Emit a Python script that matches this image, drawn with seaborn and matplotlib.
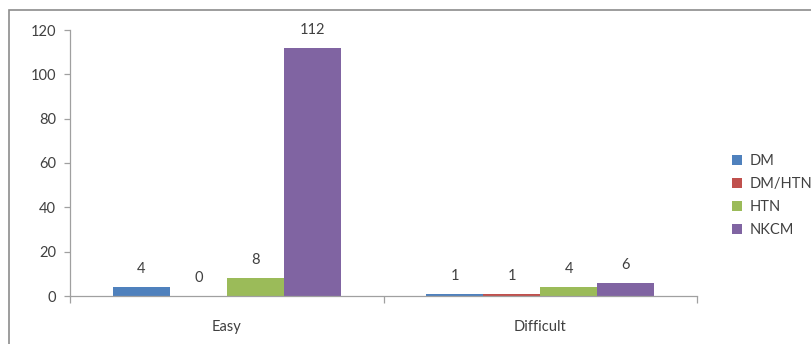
import matplotlib
matplotlib.use("Agg")
import matplotlib.pyplot as plt
import matplotlib.patches as mpatches
import seaborn as sns
import pandas as pd

categories = ["Easy", "Difficult"]
series = ["DM", "DM/HTN", "HTN", "NKCM"]
dm = [4, 1]
dm_htn = [0, 1]
htn = [8, 4]
nkcm = [112, 6]
colors = ["#4F81BD", "#C0504D", "#9BBB59", "#8064A2"]
yticks = [0, 20, 40, 60, 80, 100, 120]

rows = []
for s, vals in zip(series, [dm, dm_htn, htn, nkcm]):
    for c, v in zip(categories, vals):
        rows.append({"Category": c, "Series": s, "Value": v})
df = pd.DataFrame(rows)

sns.set_theme(style="white")
plt.rcParams["font.family"] = ["Lato", "DejaVu Sans"]

fig = plt.figure(figsize=(8.12, 3.44), dpi=100)
ax = fig.add_axes([70/812, 1-296/344, (697-70)/812, (296-30)/344])

sns.barplot(data=df, x="Category", y="Value", hue="Series", order=categories,
            hue_order=series, palette=colors, width=0.727, saturation=1,
            linewidth=0, ax=ax, legend=True)

for cont in ax.containers:
    ax.bar_label(cont, padding=8, fontsize=10.5, color="#404040")

ax.set_xlim(-0.5, 1.5)
ax.set_ylim(0, 120)
ax.set_yticks(yticks)
ax.set_xlabel("")
ax.set_ylabel("")
for sp in ["top", "right"]:
    ax.spines[sp].set_visible(False)
for sp in ["left", "bottom"]:
    ax.spines[sp].set_color("#A0A0A0")
    ax.spines[sp].set_linewidth(0.9)

ax.tick_params(axis="y", which="major", length=4, width=0.9, color="#A0A0A0",
               labelsize=10.5, labelcolor="#404040", left=True, pad=6)
ax.set_xticks([-0.5, 0.5, 1.5], minor=True)
ax.tick_params(axis="x", which="minor", length=5, width=0.9, color="#A0A0A0", bottom=True)
ax.tick_params(axis="x", which="major", length=0, labelsize=10.5, labelcolor="#404040", pad=17)

handles, labels = ax.get_legend_handles_labels()
ax.get_legend().remove()
fig.legend(handles, labels, loc="center left", bbox_to_anchor=(0.885, 0.432),
           frameon=False, fontsize=10.5, handlelength=0.7, handleheight=0.7,
           handletextpad=0.5, labelspacing=0.62, labelcolor="#404040")

frame = mpatches.Rectangle((9/812, -0.1), 1.2, 1.1 - 10/344, transform=fig.transFigure,
                           fill=False, edgecolor="#8C8C8C", linewidth=1.2)
fig.patches.append(frame)

fig.savefig("out.png", dpi=100)
